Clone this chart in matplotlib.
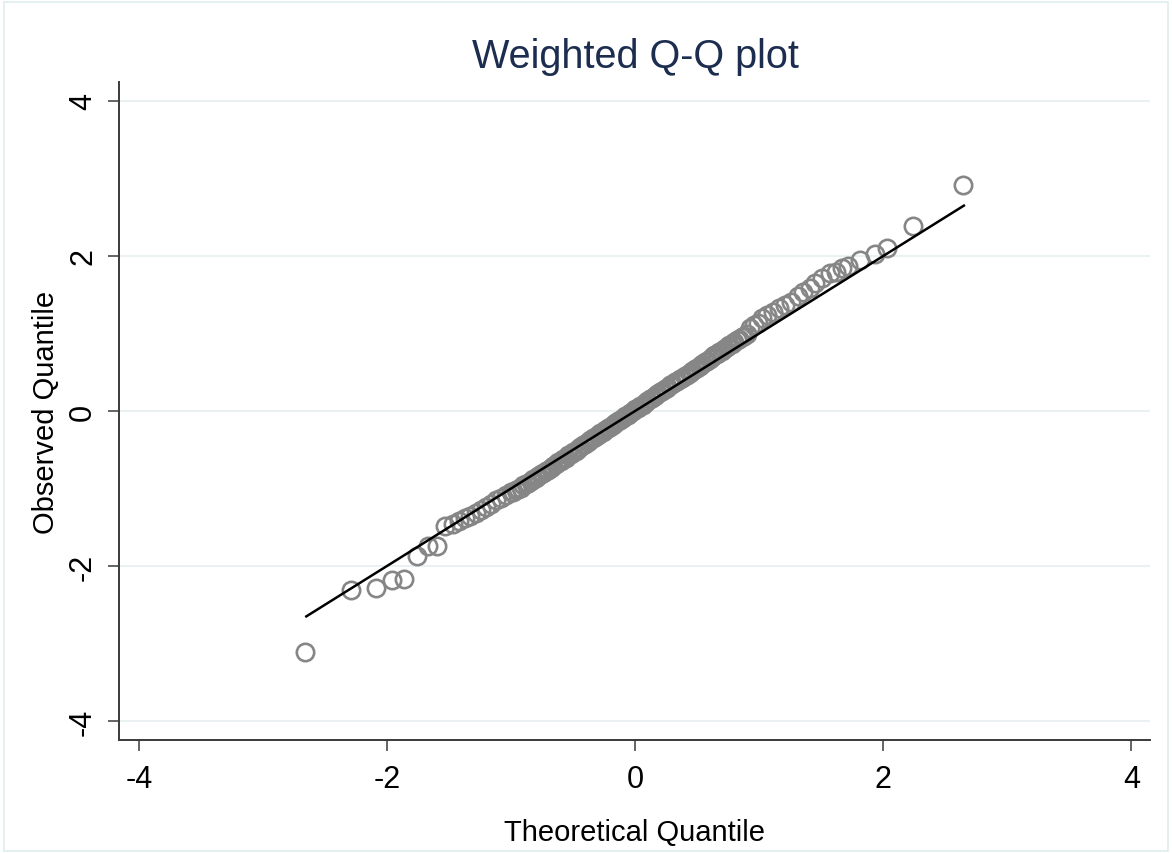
import matplotlib
matplotlib.use("Agg")
import matplotlib.pyplot as plt
from matplotlib.patches import Rectangle

plt.rcParams["font.family"] = ["Liberation Sans", "DejaVu Sans"]

# ── data ──────────────────────────────────────────────────────────────────────
theo_low = [-2.66, -2.29, -2.09, -1.96, -1.86, -1.76, -1.67, -1.60, -1.53, -1.47,
            -1.42, -1.37, -1.33, -1.28, -1.24, -1.20, -1.16, -1.12, -1.08, -1.04]
obs_low = [-3.11, -2.31, -2.28, -2.18, -2.17, -1.87, -1.74, -1.74, -1.48, -1.46,
           -1.42, -1.38, -1.35, -1.31, -1.28, -1.24, -1.20, -1.15, -1.12, -1.08]

theo_mid = [-1.00, -0.98, -0.96, -0.94, -0.92, -0.90, -0.88, -0.86, -0.84, -0.82,
            -0.80, -0.78, -0.76, -0.74, -0.72, -0.70, -0.68, -0.66, -0.64, -0.62,
            -0.60, -0.58, -0.56, -0.54, -0.52, -0.50, -0.48, -0.46, -0.44, -0.42,
            -0.40, -0.38, -0.36, -0.34, -0.32, -0.30, -0.28, -0.26, -0.24, -0.22,
            -0.20, -0.18, -0.16, -0.14, -0.12, -0.10, -0.08, -0.06, -0.04, -0.02,
            0.00, 0.02, 0.04, 0.06, 0.08, 0.10, 0.12, 0.14, 0.16, 0.18,
            0.20, 0.22, 0.24, 0.26, 0.28, 0.30, 0.32, 0.34, 0.36, 0.38,
            0.40, 0.42, 0.44, 0.46, 0.48, 0.50, 0.52, 0.54, 0.56, 0.58,
            0.60, 0.62, 0.64, 0.66, 0.68, 0.70, 0.72, 0.74, 0.76, 0.78,
            0.80, 0.82, 0.84, 0.86, 0.88, 0.90]
obs_mid = [-1.05, -1.04, -1.02, -1.00, -0.99, -0.96, -0.94, -0.93, -0.90, -0.88,
           -0.86, -0.84, -0.81, -0.80, -0.77, -0.76, -0.73, -0.71, -0.69, -0.66,
           -0.64, -0.62, -0.60, -0.57, -0.55, -0.53, -0.51, -0.49, -0.46, -0.44,
           -0.42, -0.40, -0.38, -0.35, -0.33, -0.31, -0.29, -0.27, -0.25, -0.22,
           -0.20, -0.18, -0.16, -0.13, -0.11, -0.09, -0.07, -0.05, -0.03, 0.00,
           0.02, 0.04, 0.06, 0.08, 0.10, 0.13, 0.15, 0.17, 0.20, 0.22,
           0.24, 0.26, 0.28, 0.30, 0.33, 0.35, 0.37, 0.39, 0.41, 0.43,
           0.45, 0.47, 0.49, 0.51, 0.54, 0.56, 0.58, 0.61, 0.63, 0.65,
           0.67, 0.70, 0.72, 0.74, 0.76, 0.78, 0.80, 0.83, 0.85, 0.87,
           0.89, 0.91, 0.93, 0.95, 0.97, 0.99]

theo_high = [0.93, 0.96, 0.99, 1.02, 1.06, 1.11, 1.16, 1.21, 1.26, 1.31,
             1.35, 1.41, 1.45, 1.51, 1.57, 1.62, 1.67, 1.72, 1.81, 1.93,
             2.03, 2.24, 2.64]
obs_high = [1.07, 1.11, 1.13, 1.20, 1.24, 1.28, 1.33, 1.37, 1.41, 1.49,
            1.54, 1.59, 1.65, 1.72, 1.78, 1.80, 1.85, 1.87, 1.95, 2.02,
            2.10, 2.39, 2.91]

theo = theo_low + theo_mid + theo_high
obs = obs_low + obs_mid + obs_high

ref_line = [-2.65, 2.65]
ticks = [-4, -2, 0, 2, 4]

# ── style ─────────────────────────────────────────────────────────────────────
AXIS_CLR = "#3a3a3a"
GRID_CLR = "#eaf1f2"
MARK_CLR = "#868686"
TITLE_CLR = "#1c2d4f"

fig = plt.figure(figsize=(11.72, 8.54), dpi=100, facecolor="white")
ax = fig.add_axes([0.1015, 0.1323, 0.8797, 0.7705])

ax.plot(theo, obs, "o", ms=12.5, mfc="none", mec=MARK_CLR, mew=1.9, zorder=3)
ax.plot(ref_line, ref_line, color="black", lw=1.8, zorder=4)

ax.set_xlim(-4.16, 4.15)
ax.set_ylim(-4.245, 4.245)
ax.set_xticks(ticks)
ax.set_yticks(ticks)
ax.set_xticklabels([str(t) for t in ticks], fontsize=22)
ax.set_yticklabels([str(t) for t in ticks], fontsize=22, rotation=90, va="center")
ax.tick_params(length=8, width=1.1, color=AXIS_CLR)
ax.tick_params(axis="x", pad=9)
ax.tick_params(axis="y", pad=7)

ax.yaxis.grid(True, color=GRID_CLR, lw=1.4, zorder=0)
ax.xaxis.grid(False)
for side in ["top", "right"]:
    ax.spines[side].set_visible(False)
for side in ["left", "bottom"]:
    ax.spines[side].set_color(AXIS_CLR)
    ax.spines[side].set_linewidth(1.4)

ax.set_xlabel("Theoretical Quantile", fontsize=21, labelpad=-1)
ax.set_ylabel("Observed Quantile", fontsize=21, labelpad=6)
ax.xaxis.set_label_coords(0.5, -0.118)
fig.text(0.5419, 0.9330, "Weighted Q-Q plot", fontsize=28.5, color=TITLE_CLR,
         ha="center", va="center")

# faint outer frame of the graph region
fig.patches.append(Rectangle((4 / 1172, 2 / 854), 1164 / 1172, 849 / 854,
                             transform=fig.transFigure, fill=False,
                             ec="#dfeced", lw=1.2))

fig.savefig("out.png", dpi=100, facecolor="white")
